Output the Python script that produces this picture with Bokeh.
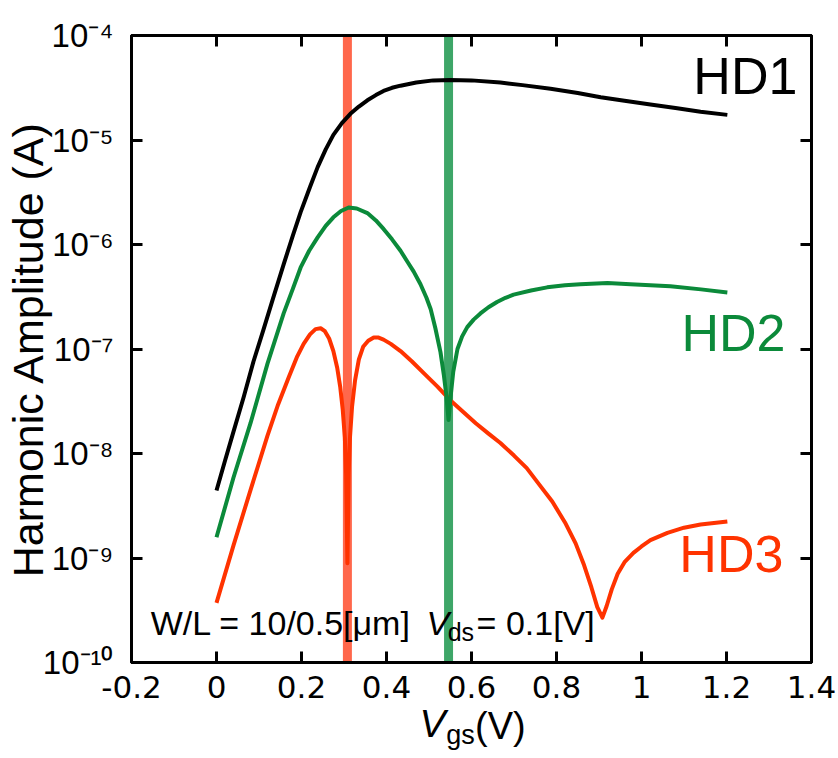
from bokeh.plotting import figure
from bokeh.models import (Range1d, FixedTicker, LinearAxis, LogAxis, Label, Span)
from bokeh.embed import file_html
from bokeh.resources import INLINE

# ---------------- data ----------------
hd1_x = [0, 0.02, 0.04, 0.064, 0.087, 0.11, 0.132, 0.158, 0.18, 0.198, 0.22, 0.238,
         0.257, 0.275, 0.295, 0.315, 0.335, 0.355, 0.375, 0.393, 0.413, 0.433, 0.47,
         0.51, 0.55, 0.6, 0.668, 0.72, 0.786, 0.85, 0.904, 0.96, 1.021, 1.08, 1.139, 1.202]
hd1_y = [4.43e-9, 8.51e-9, 1.62e-8, 3.47e-8, 7.59e-8, 1.51e-7, 2.95e-7, 6.46e-7, 1.23e-6,
         2.04e-6, 3.55e-6, 5.50e-6, 8.13e-6, 1.12e-5, 1.45e-5, 1.78e-5, 2.09e-5, 2.40e-5,
         2.69e-5, 2.95e-5, 3.16e-5, 3.31e-5, 3.55e-5, 3.72e-5, 3.76e-5, 3.72e-5, 3.55e-5,
         3.35e-5, 3.09e-5, 2.82e-5, 2.57e-5, 2.37e-5, 2.19e-5, 2.02e-5, 1.86e-5, 1.74e-5]

hd2_x = [0, 0.04, 0.08, 0.12, 0.158, 0.18, 0.198, 0.218, 0.238, 0.257, 0.275, 0.293, 0.311,
         0.33, 0.355, 0.375, 0.393, 0.413, 0.433, 0.45, 0.464, 0.48, 0.494, 0.504, 0.515,
         0.527, 0.535, 0.541, 0.546, 0.551, 0.557, 0.567, 0.578, 0.59, 0.605, 0.621, 0.64,
         0.66, 0.68, 0.699, 0.74, 0.778, 0.82, 0.856, 0.92, 0.974, 1.068, 1.14, 1.202]
hd2_y = [1.58e-9, 5.89e-9, 1.95e-8, 7.24e-8, 2.19e-7, 3.80e-7, 6.03e-7, 8.71e-7, 1.17e-6,
         1.51e-6, 1.82e-6, 2.09e-6, 2.26e-6, 2.21e-6, 2.00e-6, 1.70e-6, 1.41e-6, 1.12e-6,
         8.71e-7, 6.76e-7, 5.50e-7, 4.17e-7, 3.09e-7, 2.40e-7, 1.58e-7, 9.33e-8, 5.62e-8,
         3.55e-8, 2.09e-8, 3.55e-8, 6.03e-8, 1.00e-7, 1.32e-7, 1.62e-7, 1.91e-7, 2.19e-7,
         2.51e-7, 2.82e-7, 3.09e-7, 3.31e-7, 3.63e-7, 3.89e-7, 4.07e-7, 4.17e-7, 4.27e-7,
         4.17e-7, 3.98e-7, 3.72e-7, 3.47e-7]

hd3_x = [0, 0.04, 0.08, 0.12, 0.145, 0.17, 0.19, 0.205, 0.22, 0.233, 0.245, 0.255, 0.265,
         0.275, 0.284, 0.291, 0.297, 0.302, 0.305, 0.308, 0.311, 0.314, 0.319, 0.326, 0.335,
         0.345, 0.357, 0.37, 0.38, 0.393, 0.41, 0.433, 0.46, 0.49, 0.52, 0.55, 0.58, 0.61,
         0.64, 0.668, 0.70, 0.73, 0.76, 0.79, 0.82, 0.845, 0.865, 0.882, 0.896, 0.908,
         0.918, 0.93, 0.944, 0.96, 0.981, 1.0, 1.021, 1.061, 1.1, 1.139, 1.202]
hd3_y = [3.72e-10, 1.32e-9, 4.47e-9, 1.48e-8, 2.95e-8, 5.37e-8, 8.51e-8, 1.12e-7, 1.38e-7,
         1.55e-7, 1.58e-7, 1.48e-7, 1.26e-7, 9.55e-8, 6.61e-8, 4.37e-8, 2.63e-8, 1.41e-8,
         6.31e-9, 8.91e-10, 6.31e-9, 1.41e-8, 2.82e-8, 5.01e-8, 7.94e-8, 1.05e-7, 1.20e-7,
         1.29e-7, 1.29e-7, 1.23e-7, 1.12e-7, 9.55e-8, 7.59e-8, 5.75e-8, 4.37e-8, 3.24e-8,
         2.51e-8, 1.95e-8, 1.55e-8, 1.26e-8, 9.55e-9, 7.24e-9, 5.01e-9, 3.47e-9, 2.19e-9,
         1.38e-9, 8.51e-10, 5.25e-10, 3.39e-10, 2.69e-10, 3.47e-10, 5.01e-10, 7.08e-10,
         9.12e-10, 1.12e-9, 1.29e-9, 1.48e-9, 1.74e-9, 1.95e-9, 2.09e-9, 2.24e-9]

marker_x = [0.308, 0.546]          # vertical markers (HD3 and HD2 zeros)
series_names = ["HD1", "HD2", "HD3"]

x_ticks = [-0.2, 0, 0.2, 0.4, 0.6, 0.8, 1, 1.2, 1.4]
x_tick_labels = ["-0.2", "0", "0.2", "0.4", "0.6", "0.8", "1", "1.2", "1.4"]
y_ticks = [1e-10, 1e-9, 1e-8, 1e-7, 1e-6, 1e-5, 1e-4]
y_tick_labels = ["10\u207b\u00b9\u2070", "10\u207b\u2079", "10\u207b\u2078", "10\u207b\u2077",
                 "10\u207b\u2076", "10\u207b\u2075", "10\u207b\u2074"]
y_title = "Harmonic Amplitude (A)"
x_title_parts = ["V", "gs", "(V)"]   # V_gs(V)

# ---------------- styles ----------------
BLACK = "#000000"
GREEN = "#0b8a3a"
RED = "#ff3300"
BAND_RED = "#ff5a3c"
BAND_GREEN = "#2e9e5b"
FONT = "Liberation Sans"
TICK_FONT = "DejaVu Sans"

p = figure(width=838, height=758,
           x_range=Range1d(-0.2, 1.4), y_range=Range1d(1e-10, 1e-4),
           y_axis_type="log", output_backend="svg", toolbar_location=None,
           min_border_left=131, min_border_right=27, min_border_top=35,
           min_border_bottom=96)
p.grid.visible = False
p.outline_line_color = BLACK
p.outline_line_width = 3
p.background_fill_color = "white"
p.border_fill_color = "white"


def style_axis(ax):
    ax.axis_line_width = 3
    ax.axis_line_color = BLACK
    ax.major_tick_line_width = 3
    ax.major_tick_line_color = BLACK
    ax.major_tick_in = 11
    ax.major_tick_out = 0
    ax.minor_tick_line_color = None


# bottom x axis
xa = p.xaxis[0]
xa.ticker = FixedTicker(ticks=x_ticks)
xa.major_label_overrides = dict(zip(x_ticks, x_tick_labels))
xa.major_label_text_font = TICK_FONT
xa.major_label_text_font_size = "31px"
xa.major_label_text_color = BLACK
xa.major_label_standoff = 13
style_axis(xa)

# left y axis with its title pulled in over the tick-label column
ya = p.yaxis[0]
ya.ticker = FixedTicker(ticks=y_ticks)
ya.major_label_overrides = dict(zip(y_ticks, y_tick_labels))
ya.major_label_text_font = FONT
ya.major_label_text_font_size = "33px"
ya.major_label_text_color = BLACK
ya.major_label_standoff = 18
ya.axis_label = y_title
ya.axis_label_text_font = FONT
ya.axis_label_text_font_size = "43px"
ya.axis_label_text_font_style = "normal"
ya.axis_label_text_color = BLACK
ya.axis_label_standoff = -12
style_axis(ya)

# top and right frame axes (ticks only, no tick labels)
top = LinearAxis(ticker=FixedTicker(ticks=x_ticks),
                 major_label_overrides={t: "" for t in x_ticks},
                 major_label_text_color=None, major_label_standoff=0,
                 major_label_text_font_size="10px")
style_axis(top)
p.add_layout(top, "above")
right = LogAxis(ticker=FixedTicker(ticks=y_ticks),
                major_label_overrides={t: "" for t in y_ticks},
                major_label_text_color=None, major_label_standoff=0,
                major_label_text_font_size="10px")
style_axis(right)
p.add_layout(right, "right")

# x axis title V_gs(V): three label-only axes stacked under the x axis
title_specs = [  # (centre in data x, font size, style, standoff)
    (0.508, "39px", "italic", 1),
    (0.668, "38px", "normal", -43),
    (0.574, "27px", "normal", -30),
]
title_texts = [x_title_parts[0], x_title_parts[2], x_title_parts[1]]
for txt, (cx, fs, st, so) in zip(title_texts, title_specs):
    ax = LinearAxis(ticker=FixedTicker(ticks=[cx]),
                    major_label_overrides={cx: txt},
                    major_label_text_font=FONT, major_label_text_font_size=fs,
                    major_label_text_font_style=st, major_label_text_color=BLACK,
                    major_label_standoff=so, axis_line_color=None,
                    major_tick_line_color=None, minor_tick_line_color=None,
                    major_tick_in=0, major_tick_out=0)
    p.add_layout(ax, "below")

# vertical marker bands
band_colors = [BAND_RED, BAND_GREEN]
for xv, c in zip(marker_x, band_colors):
    p.add_layout(Span(location=xv, dimension="height", line_color=c,
                      line_width=9, line_alpha=0.92, level="underlay"))

# curves
p.line(hd3_x, hd3_y, line_color=RED, line_width=4, line_join="round")
p.line(hd2_x, hd2_y, line_color=GREEN, line_width=4, line_join="round")
p.line(hd1_x, hd1_y, line_color=BLACK, line_width=4, line_join="round")

# series labels
for name, c, xx, yy in zip(series_names, [BLACK, GREEN, RED],
                           [1.122, 1.094, 1.089], [4.06e-5, 1.41e-7, 1.10e-9]):
    p.add_layout(Label(x=xx, y=yy, text=name, text_color=c, text_font=FONT,
                       text_font_size="52px", text_align="left",
                       text_baseline="alphabetic"))

# condition annotation
ann = dict(text_color=BLACK, text_font=FONT, text_baseline="alphabetic", text_align="left")
p.add_layout(Label(x=-0.155, y=2.41e-10, text="W/L = 10/0.5[\u03bcm]",
                   text_font_size="34px", **ann))
p.add_layout(Label(x=0.494, y=2.41e-10, text="V", text_font_size="34px",
                   text_font_style="italic", **ann))
p.add_layout(Label(x=0.544, y=1.94e-10, text="ds", text_font_size="25px", **ann))
p.add_layout(Label(x=0.612, y=2.41e-10, text="= 0.1[V]", text_font_size="34px", **ann))

open("out.html", "w").write(file_html(p, INLINE))
